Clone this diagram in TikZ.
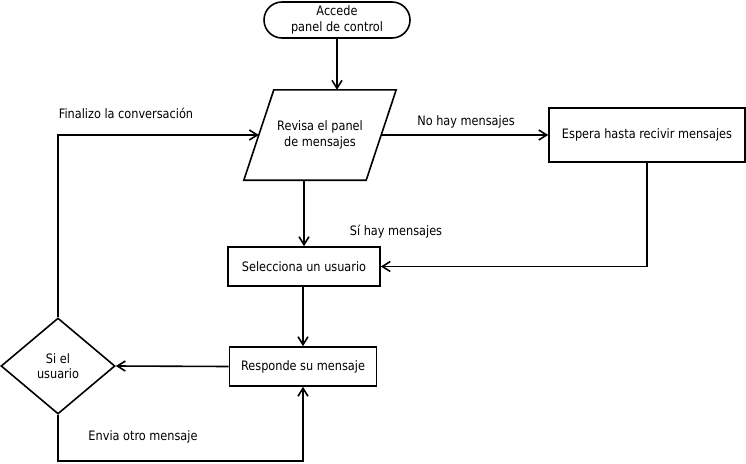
\documentclass[tikz,border=0pt]{standalone}
\usepackage{fontspec}
\setmainfont[FakeStretch=0.87]{DejaVu Sans}
\usetikzlibrary{arrows.meta,shapes.geometric}
\begin{document}
\begin{tikzpicture}[x=1pt,y=-1pt,
  every node/.style={font=\fontsize{13}{15.5}\selectfont, align=center, inner sep=0pt},
  box/.style={draw, line width=1.6pt, rectangle},
  arr/.style={line width=1.6pt, -{Straight Barb[length=8pt,width=10pt,line width=1.6pt]}}]
\useasboundingbox (0,0) rectangle (746,463);
\node[draw, line width=1.6pt, rounded corners=18pt, minimum width=146pt, minimum height=36pt] (term) at (337,20) {Accede\\panel de control};
\node[minimum width=122pt, minimum height=90pt] (rev) at (320,135) {Revisa el panel\\de mensajes};
\draw[line width=1.6pt] ([xshift=15pt]rev.north west) -- ([xshift=15pt]rev.north east) -- ([xshift=-15pt]rev.south east) -- ([xshift=-15pt]rev.south west) -- cycle;
\node[box, minimum width=196pt, minimum height=54pt] (esp) at (647,135) {Espera hasta recivir mensajes};
\node[box, minimum width=152pt, minimum height=39pt] (sel) at (304,266.5) {Selecciona un usuario};
\node[box, minimum width=147pt, minimum height=39pt] (resp) at (303,366.5) {Responde su mensaje};
\node[draw, line width=1.6pt, diamond, aspect=1.1875, minimum width=114pt, minimum height=96pt] (dia) at (58,366) {Si el\\usuario};
\draw[arr] (term.south) -- (term.south |- rev.north);
\draw[arr] (rev.east) -- (esp.west);
\draw[arr] (esp.south) |- (sel.east);
\draw[arr] (rev.south -| sel.north) -- (sel.north);
\draw[arr] (sel.south -| resp.north) -- (resp.north);
\draw[arr] (resp.west) -- (dia.east);
\draw[arr] (dia.south) -- ++(0,46) -| (resp.south);
\draw[arr] (dia.north) |- (rev.west);
\node (l1) at (466,122) {No hay mensajes};
\node (l2) at (396,232) {Sí hay mensajes};
\node (l3) at (126,113) {Finalizo la conversación};
\node (l4) at (143,437) {Envia otro mensaje};
\end{tikzpicture}
\end{document}
